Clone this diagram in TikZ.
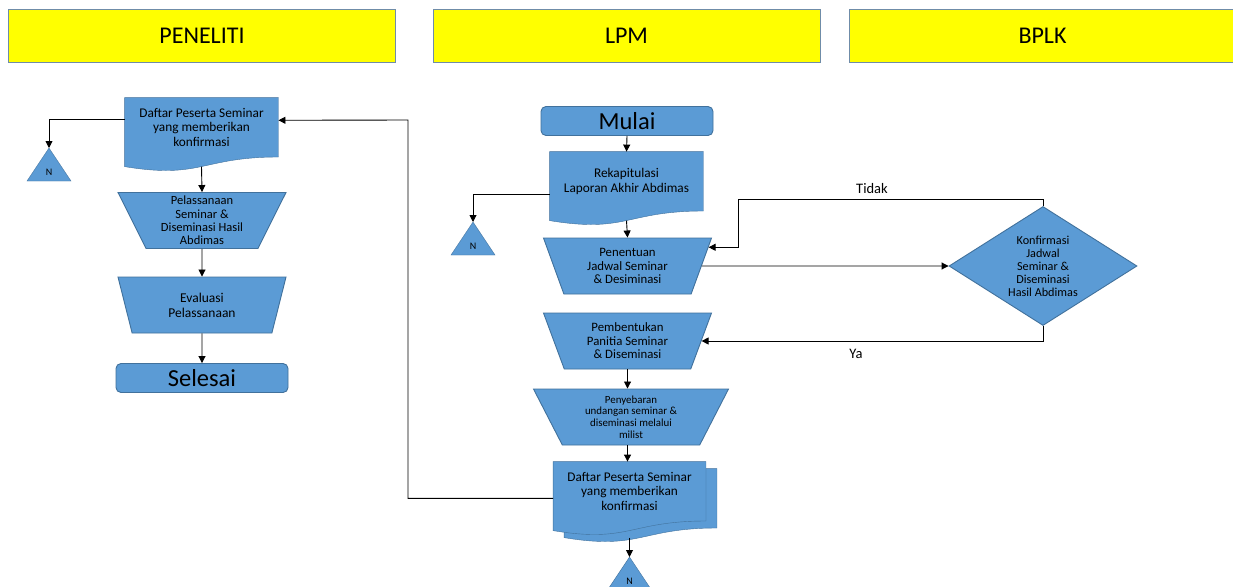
\documentclass[tikz,border=0pt]{standalone}
\usepackage{fontspec}
\setmainfont{Carlito}
\usetikzlibrary{shapes.geometric,arrows.meta,calc,backgrounds}
\definecolor{boxblue}{HTML}{5B9BD5}
\definecolor{boxline}{HTML}{41719C}
\definecolor{laneline}{HTML}{6F8CA8}
\definecolor{laneyellow}{HTML}{FFFF00}
\tikzset{
  lane/.style={draw=laneline,fill=laneyellow,line width=0.8pt,minimum width=387pt,minimum height=53pt,inner sep=0pt,font=\fontsize{24}{27}\selectfont},
  terminal/.style={draw=boxline,fill=boxblue,rounded corners=5pt,minimum width=172pt,minimum height=29pt,inner sep=0pt,font=\fontsize{24.5}{27}\selectfont},
  manual/.style={trapezium,shape border rotate=180,trapezium angle=60,trapezium stretches body,draw=boxline,fill=boxblue,minimum width=168pt,minimum height=56pt,inner sep=0pt,align=center},
  docu/.style={minimum width=153pt,minimum height=58.5pt,inner sep=0pt,align=center,font=\fontsize{13.3}{14.7}\selectfont},
  decision/.style={diamond,aspect=1.58,draw=boxline,fill=boxblue,minimum width=188pt,minimum height=119pt,inner sep=0pt,align=center,font=\fontsize{12.2}{13}\selectfont},
  offpage/.style={draw=boxline,fill=boxblue},
  label/.style={font=\fontsize{14.5}{16}\selectfont}
}
\newcommand{\wavedoc}[2]{%
  \filldraw[fill=boxblue,draw=boxline] ($(#1.north west)+#2$) -- ($(#1.north east)+#2$) -- ($(#1.south east)+#2$)
    .. controls ($(#1.south)+#2$) and ($(#1.south)+#2+(0,22.3)$) .. ($(#1.south west)+#2+(0,9.6)$) -- cycle;}
\newcommand{\offtri}[1]{%
  \filldraw[offpage] (#1) -- ++(22,33) -- ++(-44,0) -- cycle;}
\begin{document}
\begin{tikzpicture}[x=1pt,y=-1pt,>={Triangle[length=7pt,width=7pt]},line width=0.9pt]
\useasboundingbox (0,0) rectangle (1233,586);
\node[lane] (peneliti) at (202,35.5) {PENELITI};
\node[lane] (lpm) at (626.5,35.5) {LPM};
\node[lane] (bplk) at (1042.5,35.5) {BPLK};
\node[docu] (d1) at (201.5,127.3) {Daftar Peserta Seminar\\yang memberikan\\konfirmasi};
\node[manual,font=\fontsize{12.5}{13.3}\selectfont] (t1) at (202,220.5) {Pelassanaan\\Seminar \&\\Diseminasi Hasil\\Abdimas};
\node[manual,font=\fontsize{13.5}{15}\selectfont] (t2) at (202,305) {Evaluasi\\Pelassanaan};
\node[terminal] (selesai) at (202,378) {Selesai};
\node[terminal] (mulai) at (627,121) {Mulai};
\node[docu] (d2) at (626.5,181.3) {Rekapitulasi\\Laporan Akhir Abdimas};
\node[manual,font=\fontsize{12.8}{13.5}\selectfont] (t3) at (627.5,266) {Penentuan\\Jadwal Seminar\\\& Desiminasi};
\node[decision] (konf) at (1043,266) {Konfirmasi\\Jadwal\\Seminar \&\\Diseminasi\\Hasil Abdimas};
\node[manual,font=\fontsize{12.8}{13.5}\selectfont] (t4) at (627.5,341) {Pembentukan\\Panitia Seminar\\\& Diseminasi};
\node[manual,minimum width=195pt,trapezium angle=56,font=\fontsize{10.9}{11.7}\selectfont] (t5) at (631,417) {Penyebaran\\undangan seminar \&\\diseminasi melalui\\milist};
\node[docu,minimum width=152pt] (md) at (629.5,491.3) {Daftar Peserta Seminar\\yang memberikan\\konfirmasi};
\coordinate (n1) at (49,148);
\coordinate (n2) at (473,222);
\coordinate (n3) at (629.5,557);
\coordinate (tidak) at (738,199);
\coordinate (bend) at (408,120);
\begin{scope}[on background layer]
\fill[white] (0,0) rectangle (1233,586);
\wavedoc{d1}{(0,0)}
\wavedoc{d2}{(0,0)}
\wavedoc{md}{(11,7)}
\wavedoc{md}{(0,0)}
\offtri{n1}
\offtri{n2}
\offtri{n3}
\end{scope}
\node[font=\fontsize{10}{12}\selectfont] (n1t) at (49,172) {N};
\node[font=\fontsize{10}{12}\selectfont] (n2t) at (473,246) {N};
\node[font=\fontsize{10}{12}\selectfont] (n3t) at (629.5,581) {N};
\node[label] (tidakt) at (872,189) {Tidak};
\node[label] (yat) at (856,354) {Ya};
\draw[->] ([yshift=8pt]d1.west) -| (n1);
\draw[->] ([yshift=-9.6pt]d1.south) -- (t1.north);
\draw[->] (t1.south) -- (t2.north);
\draw[->] (t2.south) -- (selesai.north);
\draw[->] (mulai.south) -- (d2.north);
\draw[->] ([yshift=-12.7pt]d2.west) -| (n2);
\draw[->] ([yshift=-9.6pt]d2.south) -- (t3.north);
\draw[->] (t3.east) -- (konf.west);
\draw[->] (konf.north) |- (tidak) |- (t3.13);
\draw[->] (konf.south) |- (t4.east);
\draw[->] (t4.south) -- (t4.south |- t5.north);
\draw[->] (t5.south -| t4.south) -- (t4.south |- md.north);
\draw[->] ([yshift=-16.5pt]md.south) -- (n3);
\draw[->] ([yshift=-7pt]md.west) -| (bend) -- ([yshift=7pt]d1.east);
\end{tikzpicture}
\end{document}
